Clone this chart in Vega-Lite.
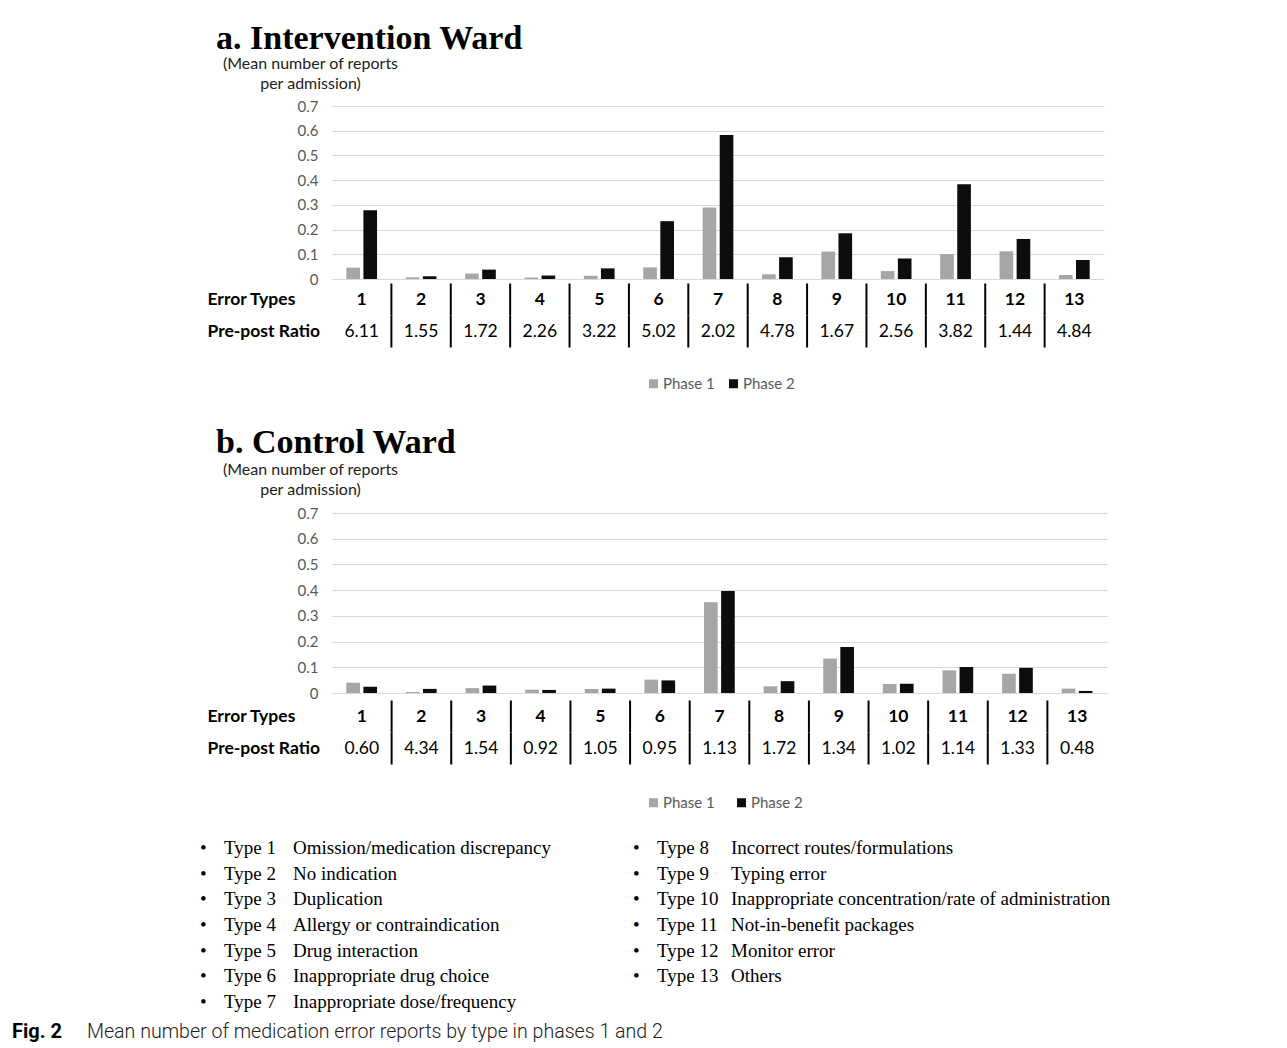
{
  "$schema": "https://vega.github.io/schema/vega-lite/v6.json",
  "background": "white",
  "padding": {"left": 12, "top": 21, "right": 5, "bottom": 5},
  "bounds": "flush",
  "spacing": 4.5,
  "config": {"view": {"stroke": null}, "font": "Lato"},
  "datasets": {
    "bars": [
      {"ward": "a", "type": 1, "phase": "Phase 1", "value": 0.046},
      {"ward": "a", "type": 1, "phase": "Phase 2", "value": 0.278},
      {"ward": "a", "type": 2, "phase": "Phase 1", "value": 0.007},
      {"ward": "a", "type": 2, "phase": "Phase 2", "value": 0.011},
      {"ward": "a", "type": 3, "phase": "Phase 1", "value": 0.022},
      {"ward": "a", "type": 3, "phase": "Phase 2", "value": 0.038},
      {"ward": "a", "type": 4, "phase": "Phase 1", "value": 0.006},
      {"ward": "a", "type": 4, "phase": "Phase 2", "value": 0.014},
      {"ward": "a", "type": 5, "phase": "Phase 1", "value": 0.013},
      {"ward": "a", "type": 5, "phase": "Phase 2", "value": 0.043},
      {"ward": "a", "type": 6, "phase": "Phase 1", "value": 0.047},
      {"ward": "a", "type": 6, "phase": "Phase 2", "value": 0.234},
      {"ward": "a", "type": 7, "phase": "Phase 1", "value": 0.289},
      {"ward": "a", "type": 7, "phase": "Phase 2", "value": 0.583},
      {"ward": "a", "type": 8, "phase": "Phase 1", "value": 0.019},
      {"ward": "a", "type": 8, "phase": "Phase 2", "value": 0.088},
      {"ward": "a", "type": 9, "phase": "Phase 1", "value": 0.111},
      {"ward": "a", "type": 9, "phase": "Phase 2", "value": 0.185},
      {"ward": "a", "type": 10, "phase": "Phase 1", "value": 0.032},
      {"ward": "a", "type": 10, "phase": "Phase 2", "value": 0.083},
      {"ward": "a", "type": 11, "phase": "Phase 1", "value": 0.101},
      {"ward": "a", "type": 11, "phase": "Phase 2", "value": 0.383},
      {"ward": "a", "type": 12, "phase": "Phase 1", "value": 0.112},
      {"ward": "a", "type": 12, "phase": "Phase 2", "value": 0.162},
      {"ward": "a", "type": 13, "phase": "Phase 1", "value": 0.016},
      {"ward": "a", "type": 13, "phase": "Phase 2", "value": 0.077},
      {"ward": "b", "type": 1, "phase": "Phase 1", "value": 0.040},
      {"ward": "b", "type": 1, "phase": "Phase 2", "value": 0.024},
      {"ward": "b", "type": 2, "phase": "Phase 1", "value": 0.004},
      {"ward": "b", "type": 2, "phase": "Phase 2", "value": 0.016},
      {"ward": "b", "type": 3, "phase": "Phase 1", "value": 0.019},
      {"ward": "b", "type": 3, "phase": "Phase 2", "value": 0.029},
      {"ward": "b", "type": 4, "phase": "Phase 1", "value": 0.013},
      {"ward": "b", "type": 4, "phase": "Phase 2", "value": 0.012},
      {"ward": "b", "type": 5, "phase": "Phase 1", "value": 0.016},
      {"ward": "b", "type": 5, "phase": "Phase 2", "value": 0.017},
      {"ward": "b", "type": 6, "phase": "Phase 1", "value": 0.052},
      {"ward": "b", "type": 6, "phase": "Phase 2", "value": 0.049},
      {"ward": "b", "type": 7, "phase": "Phase 1", "value": 0.353},
      {"ward": "b", "type": 7, "phase": "Phase 2", "value": 0.397},
      {"ward": "b", "type": 8, "phase": "Phase 1", "value": 0.026},
      {"ward": "b", "type": 8, "phase": "Phase 2", "value": 0.046},
      {"ward": "b", "type": 9, "phase": "Phase 1", "value": 0.134},
      {"ward": "b", "type": 9, "phase": "Phase 2", "value": 0.179},
      {"ward": "b", "type": 10, "phase": "Phase 1", "value": 0.035},
      {"ward": "b", "type": 10, "phase": "Phase 2", "value": 0.036},
      {"ward": "b", "type": 11, "phase": "Phase 1", "value": 0.088},
      {"ward": "b", "type": 11, "phase": "Phase 2", "value": 0.101},
      {"ward": "b", "type": 12, "phase": "Phase 1", "value": 0.075},
      {"ward": "b", "type": 12, "phase": "Phase 2", "value": 0.098},
      {"ward": "b", "type": 13, "phase": "Phase 1", "value": 0.017},
      {"ward": "b", "type": 13, "phase": "Phase 2", "value": 0.008}
    ],
    "ratios": [
      {"ward": "a", "type": 1, "ratio": 6.11},
      {"ward": "a", "type": 2, "ratio": 1.55},
      {"ward": "a", "type": 3, "ratio": 1.72},
      {"ward": "a", "type": 4, "ratio": 2.26},
      {"ward": "a", "type": 5, "ratio": 3.22},
      {"ward": "a", "type": 6, "ratio": 5.02},
      {"ward": "a", "type": 7, "ratio": 2.02},
      {"ward": "a", "type": 8, "ratio": 4.78},
      {"ward": "a", "type": 9, "ratio": 1.67},
      {"ward": "a", "type": 10, "ratio": 2.56},
      {"ward": "a", "type": 11, "ratio": 3.82},
      {"ward": "a", "type": 12, "ratio": 1.44},
      {"ward": "a", "type": 13, "ratio": 4.84},
      {"ward": "b", "type": 1, "ratio": 0.60},
      {"ward": "b", "type": 2, "ratio": 4.34},
      {"ward": "b", "type": 3, "ratio": 1.54},
      {"ward": "b", "type": 4, "ratio": 0.92},
      {"ward": "b", "type": 5, "ratio": 1.05},
      {"ward": "b", "type": 6, "ratio": 0.95},
      {"ward": "b", "type": 7, "ratio": 1.13},
      {"ward": "b", "type": 8, "ratio": 1.72},
      {"ward": "b", "type": 9, "ratio": 1.34},
      {"ward": "b", "type": 10, "ratio": 1.02},
      {"ward": "b", "type": 11, "ratio": 1.14},
      {"ward": "b", "type": 12, "ratio": 1.33},
      {"ward": "b", "type": 13, "ratio": 0.48}
    ],
    "types": [
      {"type": 1, "description": "Omission/medication discrepancy"},
      {"type": 2, "description": "No indication"},
      {"type": 3, "description": "Duplication"},
      {"type": 4, "description": "Allergy or contraindication"},
      {"type": 5, "description": "Drug interaction"},
      {"type": 6, "description": "Inappropriate drug choice"},
      {"type": 7, "description": "Inappropriate dose/frequency"},
      {"type": 8, "description": "Incorrect routes/formulations"},
      {"type": 9, "description": "Typing error"},
      {"type": 10, "description": "Inappropriate concentration/rate of administration"},
      {"type": 11, "description": "Not-in-benefit packages"},
      {"type": 12, "description": "Monitor error"},
      {"type": 13, "description": "Others"}
    ],
    "caption": [
      {"part": "Fig. 2"},
      {"part": "Mean number of medication error reports by type in phases 1 and 2"}
    ]
  },
  "vconcat": [
    {
      "width": 772,
      "height": 173,
      "data": {"name": "bars"},
      "transform": [{"filter": "datum.ward == 'a'"}],
      "title": {"text": "a. Intervention Ward", "anchor": "start", "frame": "group", "dx": -116, "offset": -27.5, "font": "Liberation Serif", "fontSize": 34, "fontWeight": "bold", "color": "#000", "baseline": "alphabetic"},
      "mark": {"type": "bar"},
      "encoding": {
        "x": {"field": "type", "type": "ordinal", "axis": null, "scale": {"paddingInner": 0, "paddingOuter": 0}},
        "xOffset": {"field": "phase", "type": "nominal", "scale": {"domain": ["Phase 1", "Phase 2"], "paddingInner": 0.2, "paddingOuter": 0.84}},
        "y": {"field": "value", "type": "quantitative", "scale": {"domain": [0, 0.7], "nice": false},
          "axis": {"values": [0, 0.1, 0.2, 0.3, 0.4, 0.5, 0.6, 0.7], "format": ".1~f", "title": ["(Mean number of reports", "per admission)"], "titleAngle": 0, "titleAlign": "center", "titleBaseline": "alphabetic", "titleX": -22, "titleY": -37.7, "titleFont": "Lato", "titleFontSize": 16, "titleFontWeight": "normal", "titleColor": "#222", "titleLineHeight": 20, "labelFont": "Lato", "labelFontSize": 15, "labelColor": "#595959", "labelPadding": 14, "ticks": false, "domain": false, "gridColor": "#d9d9d9", "gridWidth": 1.2}},
        "color": {"field": "phase", "type": "nominal", "scale": {"domain": ["Phase 1", "Phase 2"], "range": ["#a6a6a6", "#0d0d0d"]},
          "legend": {"orient": "none", "legendX": 314, "legendY": 270, "direction": "horizontal", "title": null, "padding": 0, "symbolType": "square", "symbolSize": 81, "symbolStrokeWidth": 0, "labelFont": "Lato", "labelFontSize": 15, "labelColor": "#595959", "labelOffset": 2, "columnPadding": 11}}
      }
    },
    {
      "width": 772,
      "height": 225,
      "data": {"name": "ratios"},
      "transform": [{"filter": "datum.ward == 'a'"}],
      "encoding": {"x": {"field": "type", "type": "ordinal", "axis": null, "scale": {"paddingInner": 0, "paddingOuter": 0}}},
      "layer": [
        {"mark": {"type": "text", "font": "Lato", "fontSize": 17.5, "fontWeight": "bold", "color": "#000"},
          "encoding": {"y": {"datum": "Error Types", "type": "nominal", "scale": {"domain": ["Error Types", "Pre-post Ratio"], "paddingInner": 0, "paddingOuter": 0, "range": [0, 64]},
            "axis": {"title": null, "ticks": false, "domain": false, "grid": false, "labelFont": "Lato", "labelFontSize": 17.5, "labelFontWeight": "bold", "labelColor": "#000", "labelAlign": "left", "labelPadding": 125}},
            "text": {"field": "type", "type": "nominal"}}},
        {"mark": {"type": "text", "font": "Lato", "fontSize": 17.5, "color": "#000"},
          "encoding": {"y": {"datum": "Pre-post Ratio", "type": "nominal"}, "text": {"field": "ratio", "type": "quantitative", "format": ".2f"}}},
        {"transform": [{"filter": "datum.type > 1"}], "mark": {"type": "tick", "orient": "vertical", "color": "#000", "thickness": 2, "size": 32, "opacity": 1},
          "encoding": {"x": {"field": "type", "type": "ordinal", "bandPosition": 0}, "y": {"datum": "Error Types", "type": "nominal"}}},
        {"transform": [{"filter": "datum.type > 1"}], "mark": {"type": "tick", "orient": "vertical", "color": "#000", "thickness": 2, "size": 32, "opacity": 1},
          "encoding": {"x": {"field": "type", "type": "ordinal", "bandPosition": 0}, "y": {"datum": "Pre-post Ratio", "type": "nominal"}}}
      ]
    },
    {
      "width": 775,
      "height": 180,
      "data": {"name": "bars"},
      "transform": [{"filter": "datum.ward == 'b'"}],
      "title": {"text": "b. Control Ward", "anchor": "start", "frame": "group", "dx": -116, "offset": -26, "font": "Liberation Serif", "fontSize": 34, "fontWeight": "bold", "color": "#000", "baseline": "alphabetic"},
      "mark": {"type": "bar"},
      "encoding": {
        "x": {"field": "type", "type": "ordinal", "axis": null, "scale": {"paddingInner": 0, "paddingOuter": 0}},
        "xOffset": {"field": "phase", "type": "nominal", "scale": {"domain": ["Phase 1", "Phase 2"], "paddingInner": 0.2, "paddingOuter": 0.84}},
        "y": {"field": "value", "type": "quantitative", "scale": {"domain": [0, 0.7], "nice": false},
          "axis": {"values": [0, 0.1, 0.2, 0.3, 0.4, 0.5, 0.6, 0.7], "format": ".1~f", "title": ["(Mean number of reports", "per admission)"], "titleAngle": 0, "titleAlign": "center", "titleBaseline": "alphabetic", "titleX": -22, "titleY": -38.7, "titleFont": "Lato", "titleFontSize": 16, "titleFontWeight": "normal", "titleColor": "#222", "titleLineHeight": 20, "labelFont": "Lato", "labelFontSize": 15, "labelColor": "#595959", "labelPadding": 14, "ticks": false, "domain": false, "gridColor": "#d9d9d9", "gridWidth": 1.2}},
        "color": {"field": "phase", "type": "nominal", "scale": {"domain": ["Phase 1", "Phase 2"], "range": ["#a6a6a6", "#0d0d0d"]},
          "legend": {"orient": "none", "legendX": 314, "legendY": 282, "direction": "horizontal", "title": null, "padding": 0, "symbolType": "square", "symbolSize": 81, "symbolStrokeWidth": 0, "labelFont": "Lato", "labelFontSize": 15, "labelColor": "#595959", "labelOffset": 2, "columnPadding": 19}}
      }
    },
    {
      "width": 775,
      "height": 132.45,
      "data": {"name": "ratios"},
      "transform": [{"filter": "datum.ward == 'b'"}],
      "encoding": {"x": {"field": "type", "type": "ordinal", "axis": null, "scale": {"paddingInner": 0, "paddingOuter": 0}}},
      "layer": [
        {"mark": {"type": "text", "font": "Lato", "fontSize": 17.5, "fontWeight": "bold", "color": "#000"},
          "encoding": {"y": {"datum": "Error Types", "type": "nominal", "scale": {"domain": ["Error Types", "Pre-post Ratio"], "paddingInner": 0, "paddingOuter": 0, "range": [3, 67]},
            "axis": {"title": null, "ticks": false, "domain": false, "grid": false, "labelFont": "Lato", "labelFontSize": 17.5, "labelFontWeight": "bold", "labelColor": "#000", "labelAlign": "left", "labelPadding": 125}},
            "text": {"field": "type", "type": "nominal"}}},
        {"mark": {"type": "text", "font": "Lato", "fontSize": 17.5, "color": "#000"},
          "encoding": {"y": {"datum": "Pre-post Ratio", "type": "nominal"}, "text": {"field": "ratio", "type": "quantitative", "format": ".2f"}}},
        {"transform": [{"filter": "datum.type > 1"}], "mark": {"type": "tick", "orient": "vertical", "color": "#000", "thickness": 2, "size": 32, "opacity": 1},
          "encoding": {"x": {"field": "type", "type": "ordinal", "bandPosition": 0}, "y": {"datum": "Error Types", "type": "nominal"}}},
        {"transform": [{"filter": "datum.type > 1"}], "mark": {"type": "tick", "orient": "vertical", "color": "#000", "thickness": 2, "size": 32, "opacity": 1},
          "encoding": {"x": {"field": "type", "type": "ordinal", "bandPosition": 0}, "y": {"datum": "Pre-post Ratio", "type": "nominal"}}}
      ]
    },
    {
      "width": 433,
      "height": 179.9,
      "data": {"name": "types"},
      "transform": [
        {"calculate": "datum.type <= 7 ? 'L' : 'R'", "as": "col"},
        {"calculate": "datum.type <= 7 ? datum.type : datum.type - 7", "as": "row"},
        {"calculate": "'Type ' + datum.type", "as": "label"}
      ],
      "encoding": {
        "x": {"field": "col", "type": "nominal", "axis": null, "scale": {"type": "point", "domain": ["L", "R"], "padding": 0}},
        "y": {"field": "row", "type": "ordinal", "axis": null, "scale": {"domain": [1, 2, 3, 4, 5, 6, 7], "paddingInner": 0, "paddingOuter": 0}}
      },
      "layer": [
        {"mark": {"type": "text", "text": "•", "font": "Liberation Serif", "fontSize": 19, "color": "#000", "align": "left", "baseline": "middle", "dx": -132}},
        {"mark": {"type": "text", "font": "Liberation Serif", "fontSize": 19, "color": "#000", "align": "left", "baseline": "middle", "dx": -108},
          "encoding": {"text": {"field": "label", "type": "nominal"}}},
        {"transform": [{"filter": "datum.col == 'L'"}], "mark": {"type": "text", "font": "Liberation Serif", "fontSize": 19, "color": "#000", "align": "left", "baseline": "middle", "dx": -39},
          "encoding": {"text": {"field": "description", "type": "nominal"}}},
        {"transform": [{"filter": "datum.col == 'R'"}], "mark": {"type": "text", "font": "Liberation Serif", "fontSize": 19, "color": "#000", "align": "left", "baseline": "middle", "dx": -34},
          "encoding": {"text": {"field": "description", "type": "nominal"}}}
      ]
    },
    {
      "width": 75,
      "height": 24,
      "data": {"name": "caption"},
      "encoding": {
        "x": {"field": "part", "type": "nominal", "axis": null, "sort": null, "scale": {"type": "point", "padding": 0}}
      },
      "layer": [
        {"transform": [{"filter": "datum.part == 'Fig. 2'"}], "mark": {"type": "text", "font": "Roboto", "fontSize": 20, "fontWeight": "bold", "color": "#000", "align": "left", "baseline": "middle", "dx": -320},
          "encoding": {"text": {"field": "part", "type": "nominal"}}},
        {"transform": [{"filter": "datum.part != 'Fig. 2'"}], "mark": {"type": "text", "font": "Roboto", "fontSize": 19.6, "fontWeight": 300, "color": "#222", "align": "left", "baseline": "middle", "dx": -320},
          "encoding": {"text": {"field": "part", "type": "nominal"}}}
      ]
    }
  ],
  "resolve": {"scale": {"x": "independent", "y": "independent", "color": "independent"}, "legend": {"color": "independent"}}
}
